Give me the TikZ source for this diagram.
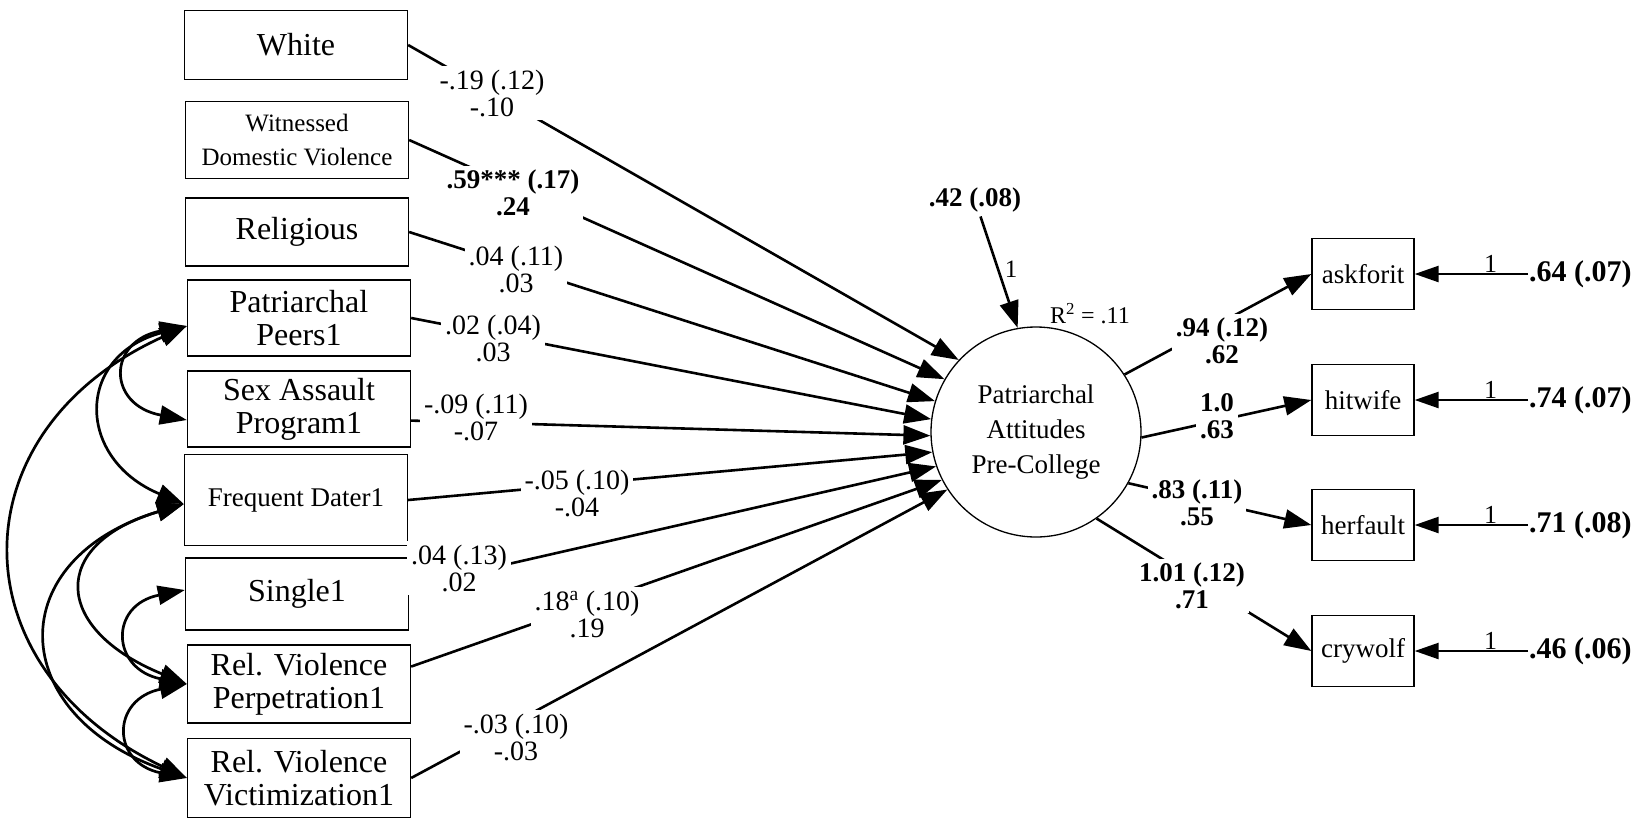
\documentclass[tikz,border=0pt]{standalone}
\usepackage{fontspec}
\setmainfont{Liberation Serif}
\usetikzlibrary{arrows.meta,calc}

\begin{document}
\begin{tikzpicture}[x=1pt,y=-1pt,
  box/.style={draw, line width=1.3pt, minimum width=223pt, align=center, inner sep=0pt,
              font=\fontsize{32}{33}\selectfont},
  obs/.style={draw, line width=1.3pt, minimum width=102pt, minimum height=71pt, inner sep=0pt,
              font=\fontsize{27}{28}\selectfont},
  latent/.style={circle, draw, line width=1.3pt, minimum size=210pt, inner sep=0pt, align=center,
              font=\fontsize{27}{35}\selectfont},
  regpath/.style={line width=2.6pt, -{Triangle[length=27pt,width=19pt]}},
  errpath/.style={line width=2.4pt, -{Triangle[length=24pt,width=16pt]}},
  covpath/.style={line width=2.7pt, {Triangle[length=27pt,width=19pt]}-{Triangle[length=27pt,width=19pt]}},
  est/.style={fill=white, align=center, inner sep=4pt, font=\fontsize{28}{27}\selectfont},
  estb/.style={fill=white, align=center, inner sep=4pt, font=\bfseries\fontsize{27}{27}\selectfont},
  errlab/.style={anchor=west, inner sep=1pt, font=\bfseries\fontsize{30}{30}\selectfont},
  fixone/.style={anchor=south, inner sep=0pt, font=\fontsize{26}{26}\selectfont},
]
\useasboundingbox (0,0) rectangle (1652,817);

% exogenous predictors
\node[box, minimum height=69pt] (white)  at (296,45)  {White};
\node[box, minimum height=77pt, font=\fontsize{25}{34}\selectfont] (witness) at (297,140) {Witnessed\\Domestic Violence};
\node[box, minimum height=68pt] (relig)  at (297,232) {Religious};
\node[box, minimum height=76pt] (peers)  at (299,318) {Patriarchal\\Peers1};
\node[box, minimum height=76pt] (sexa)   at (299,409) {Sex Assault\\Program1};
\node[box, minimum height=91pt, font=\fontsize{27}{30}\selectfont] (freq) at (296,500) {Frequent Dater1};
\node[box, minimum height=72pt] (single) at (297,594) {Single1};
\node[box, minimum height=78pt] (perp)   at (299,684) {Rel. Violence\\Perpetration1};
\node[box, minimum height=79pt] (vict)   at (299,778) {Rel. Violence\\Victimization1};

% latent outcome
\node[latent] (circ) at (1036,432) {Patriarchal\\Attitudes\\Pre-College};

% indicators
\node[obs] (ask)  at (1363,274) {askforit};
\node[obs] (hit)  at (1363,400) {hitwife};
\node[obs] (her)  at (1363,525) {herfault};
\node[obs] (cry)  at (1363,651) {crywolf};

% structural paths
\draw[regpath] (white.east)   -- (circ.137);
\draw[regpath] (witness.east) -- (circ.150);
\draw[regpath] (relig.east)   -- (circ.163);
\draw[regpath] (peers.east)   -- (circ.173);
\draw[regpath] ($(sexa.north east)!0.65!(sexa.south east)$) -- (circ.182);
\draw[regpath] (freq.east)    -- (circ.191);
\draw[regpath] ($(single.north east)!0.4!(single.south east)$) -- (circ.199);
\draw[regpath] ($(perp.north east)!0.28!(perp.south east)$) -- (circ.207);
\draw[regpath] (vict.east)    -- (circ.213);

% measurement paths
\draw[regpath] (circ.33)  -- (ask.west);
\draw[regpath] (circ.357) -- (hit.west);
\draw[regpath] (circ.331) -- (her.west);
\draw[regpath] (circ.305) -- (cry.west);

% disturbance
\node[estb] (dist) at (975,200) {.42 (.08)};
\draw[regpath] (dist) -- (circ.100);
\node[font=\fontsize{25}{25}\selectfont, inner sep=0pt] (one0) at (1011,269) {1};
\node[font=\fontsize{24}{24}\selectfont, inner sep=0pt] (rsq) at (1090,314) {R\textsuperscript{2} = .11};

% measurement errors
\node[errlab] (e1) at (1528,274) {.64 (.07)};
\node[errlab] (e2) at (1528,400) {.74 (.07)};
\node[errlab] (e3) at (1528,525) {.71 (.08)};
\node[errlab] (e4) at (1528,651) {.46 (.06)};
\draw[errpath] (e1.west) -- node[fixone, pos=0.33] {1} (ask.east);
\draw[errpath] (e2.west) -- node[fixone, pos=0.33] {1} (hit.east);
\draw[errpath] (e3.west) -- node[fixone, pos=0.33] {1} (her.east);
\draw[errpath] (e4.west) -- node[fixone, pos=0.33] {1} (cry.east);

% covariances among predictors
\coordinate (peersW) at ($(peers.west)+(0,8)$);
\coordinate (sexaW)  at ($(sexa.west)+(0,11)$);
\coordinate (freqW)  at ($(freq.west)+(0,4)$);
\coordinate (singleW) at ($(single.west)+(0,-4)$);
\draw[covpath] (peersW) .. controls +(-80,15) and +(-80,-15) .. (sexaW);
\draw[covpath] (peersW) .. controls +(-112,30) and +(-108,-45) .. (freqW);
\draw[covpath] (peersW) .. controls +(-232,105) and +(-232,-110) .. (vict.west);
\draw[covpath] (freqW) .. controls +(-135,40) and +(-135,-55) .. (perp.west);
\draw[covpath] (freqW) .. controls +(-182,55) and +(-182,-65) .. (vict.west);
\draw[covpath] (singleW) .. controls +(-76,15) and +(-76,-15) .. (perp.west);
\draw[covpath] (perp.west) .. controls +(-76,15) and +(-76,-15) .. (vict.west);

% path estimates
\node[est]  (l1) at (492,93)  {-.19 (.12)\\-.10};
\node[estb] (l2) at (513,193) {.59*** (.17)\\.24};
\node[est]  (l3) at (516,269) {.04 (.11)\\.03};
\node[est]  (l4) at (493,338) {.02 (.04)\\.03};
\node[est]  (l5) at (476,417) {-.09 (.11)\\-.07};
\node[est]  (l6) at (577,493) {-.05 (.10)\\-.04};
\node[est]  (l7) at (459,568) {.04 (.13)\\.02};
\node[est]  (l8) at (587,614) {.18\textsuperscript{a} (.10)\\.19};
\node[est]  (l9) at (516,737) {-.03 (.10)\\-.03};

\node[estb] (m1) at (1222,341) {.94 (.12)\\.62};
\node[estb] (m2) at (1217,416) {1.0\\.63};
\node[estb] (m3) at (1197,503) {.83 (.11)\\.55};
\node[estb] (m4) at (1192,586) {1.01 (.12)\\.71};
\end{tikzpicture}
\end{document}
